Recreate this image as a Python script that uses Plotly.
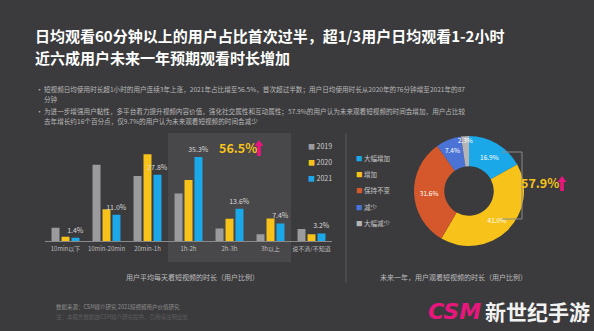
import plotly.graph_objects as go

# ---------------- data ----------------
categories = ["10min以下", "10min-20min", "20min-1h", "1h-2h", "2h-3h", "3h以上", "说不清/不知道"]
years = ["2019", "2020", "2021"]
v2019 = [5.6, 32.0, 27.3, 20.0, 5.3, 2.8, 5.0]
v2020 = [1.8, 13.3, 36.4, 25.6, 9.4, 9.5, 2.8]
v2021 = [1.4, 11.0, 27.8, 35.3, 13.6, 7.4, 3.2]

pie_labels = ["大幅增加", "增加", "保持不变", "减少", "大幅减少"]
pie_values = [16.9, 41.0, 31.6, 7.4, 2.3]

title1 = "日均观看60分钟以上的用户占比首次过半，超1/3用户日均观看1-2小时"
title2 = "近六成用户未来一年预期观看时长增加"
bullet1 = ["短视频日均使用时长超1小时的用户连续3年上涨，2021年占比增至56.5%，首次超过半数；用户日均使用时长从2020年的76分钟增至2021年的87",
           "分钟"]
bullet2 = ["为进一步增强用户黏性，多平台着力提升视频内容价值，强化社交属性和互动属性；57.9%的用户认为未来观看短视频的时间会增加，用户占比较",
           "去年增长约16个百分点，仅9.7%的用户认为未来观看短视频的时间会减少"]
bar_axis_title = "用户平均每天看短视频的时长（用户比例）"
pie_axis_title = "未来一年，用户观看短视频的时长（用户比例）"
highlight_bar = "56.5%"
highlight_pie = "57.9%"
source1 = "数据来源：CSM媒介研究 2021短视频用户价值研究"
source2 = "注：本报告数据由CSM媒介研究提供，引用请注明出处"

# ---------------- style ----------------
W, H = 594, 331
BG = "#3b3b3d"
FONT = "Noto Sans CJK SC"
bar_colors = ["#9b9b9d", "#f7c31b", "#1ba8e8"]
pie_colors = ["#1ba8e8", "#f7c31b", "#d4582b", "#4b73d6", "#b5b5b7"]
YELLOW = "#f7c31b"
PINK = "#e8167d"


def px(x):
    return x / W


def py(y):
    return 1 - y / H


fig = go.Figure()

for name, vals, col in zip(years, [v2019, v2020, v2021], bar_colors):
    is_last = name == years[-1]
    fig.add_trace(go.Bar(
        x=categories, y=vals, name=name, marker=dict(color=col, line=dict(width=0)),
        text=vals if is_last else None,
        texttemplate="%{y:.1f}%" if is_last else None,
        textposition="outside" if is_last else "none",
        textfont=dict(size=7, color="#d8d8d8", family=FONT),
        cliponaxis=False, showlegend=False, hoverinfo="skip",
    ))

fig.add_trace(go.Pie(
    labels=pie_labels, values=pie_values, sort=False, direction="clockwise", rotation=0,
    hole=0.45, marker=dict(colors=pie_colors, line=dict(width=0)),
    texttemplate="%{value:.1f}%", textposition="inside", insidetextorientation="horizontal",
    textfont=dict(size=6.5, color="#ffffff", family=FONT),
    domain=dict(x=[px(414), px(524)], y=[py(246), py(136)]),
    showlegend=False, automargin=False, hoverinfo="skip",
))

fig.update_layout(
    width=W, height=H, margin=dict(l=0, r=0, t=0, b=0),
    paper_bgcolor=BG, plot_bgcolor="rgba(0,0,0,0)",
    font=dict(family=FONT, color="#cccccc"),
    barmode="group", bargap=0.27, bargroupgap=0.2,
    uniformtext=dict(minsize=6.5, mode="show"),
    xaxis=dict(domain=[px(45), px(332)], type="category", range=[-0.5, 6.5],
               showline=True, linecolor="#8a8a8a", linewidth=1, showgrid=False, zeroline=False,
               ticks="", tickfont=dict(size=6, color="#bdbdbd", family=FONT), ticklabelstandoff=2),
    yaxis=dict(domain=[py(241), py(145.8)], range=[0, 40], visible=False, showgrid=False),
)

shapes = []
# highlight box over 1h+ categories
shapes.append(dict(type="rect", xref="x", yref="paper", x0=2.5, x1=5.5, y0=py(262), y1=py(133),
                   fillcolor="rgba(255,255,255,0.07)", line=dict(width=0), layer="below"))
# divider
shapes.append(dict(type="line", xref="paper", yref="paper", x0=px(346), x1=px(346), y0=py(283), y1=py(133),
                   line=dict(color="#5a5a5c", width=1)))
# bracket
shapes.append(dict(type="path", xref="paper", yref="paper",
                   path=f"M{px(502)},{py(152)} L{px(522)},{py(152)} L{px(522)},{py(219)} L{px(502)},{py(219)}",
                   line=dict(color="#8a8a8a", width=1)))


def arrow(cx, ytop, ybot, w=3.6, hw=4.5, hh=6):
    pts = [(cx - w / 2, ybot), (cx - w / 2, ytop + hh), (cx - hw, ytop + hh), (cx, ytop),
           (cx + hw, ytop + hh), (cx + w / 2, ytop + hh), (cx + w / 2, ybot)]
    p = "M" + " L".join(f"{px(a)},{py(b)}" for a, b in pts) + " Z"
    return dict(type="path", xref="paper", yref="paper", path=p, fillcolor=PINK, line=dict(width=0))


shapes.append(arrow(259, 140, 156))
shapes.append(arrow(562, 176, 191))
fig.update_layout(shapes=shapes)

ann = []


def text(x, y, s, size, color, anchor="left", bold=False, **kw):
    ann.append(dict(xref="paper", yref="paper", x=px(x), y=py(y), text=(f"<b>{s}</b>" if bold else s),
                    showarrow=False, xanchor=anchor, yanchor="middle",
                    font=dict(size=size, color=color, family=kw.pop("family", FONT)), **kw))


text(33, 36, title1, 15, "#ffffff", bold=True)
text(33, 58, title2, 15, "#ffffff", bold=True)

for i, (lines, y0) in enumerate([(bullet1, 89), (bullet2, 111)]):
    text(34, y0, "•", 7, "#bdbdbd")
    for j, ln in enumerate(lines):
        text(42, y0 + 10 * j, ln, 6.6, "#b8b8b8")

# bar legend
for k, (name, col) in enumerate(zip(years, bar_colors)):
    text(306, 146 + 16 * k, f"<span style='color:{col}'>■</span> {name}", 7, "#cfcfcf")

# pie legend
for k, (name, col) in enumerate(zip(pie_labels, pie_colors)):
    text(354, 158 + 16.2 * k, f"<span style='color:{col}'>■</span> {name}", 6.5, "#c8c8c8")

text(238, 147, highlight_bar, 12.5, YELLOW, anchor="center", bold=True)
text(540, 183, highlight_pie, 12.5, YELLOW, anchor="center", bold=True)

text(192, 277, bar_axis_title, 7, "#bdbdbd", anchor="center")
text(453, 277, pie_axis_title, 7, "#bdbdbd", anchor="center")

text(54, 307, source1, 5.5, "#8f8f8f")
text(54, 317, source2, 5.5, "#5d5d5f")

text(483, 311, "<i>CSM</i>", 22, PINK, anchor="right", bold=True, family="DejaVu Sans")
text(537, 311, "新世纪手游", 21, "#f2f2f2", anchor="center", bold=True)

fig.update_layout(annotations=ann)
fig.write_html("out.html")
